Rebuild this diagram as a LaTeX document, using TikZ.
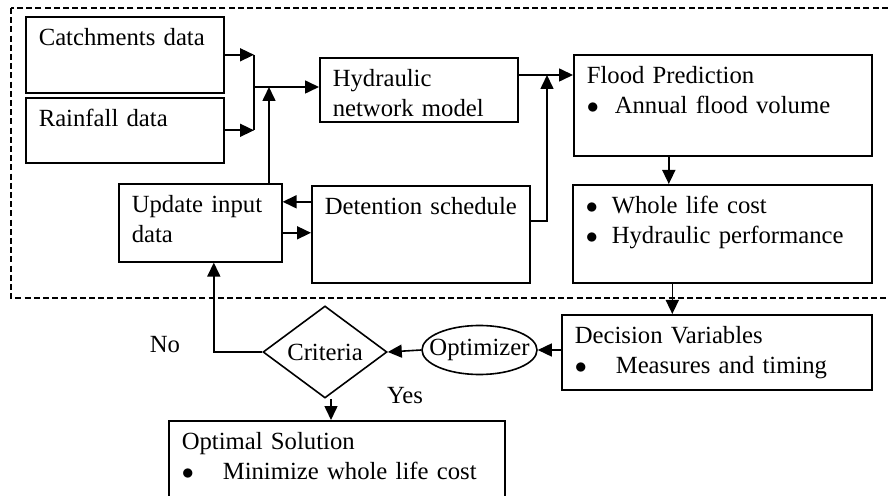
\documentclass[tikz,border=0pt]{standalone}
\usepackage{fontspec}
\setmainfont{Liberation Serif}
\usetikzlibrary{arrows.meta,shapes.geometric}
\newcommand{\bulletline}[2]{\makebox[#1][l]{$\bullet$}#2}

\begin{document}
\begin{tikzpicture}[x=0.5pt,y=-0.5pt,line width=0.8pt,
        font=\fontsize{12.35pt}{15pt}\selectfont,
        box/.style={draw,anchor=north west,align=left,inner xsep=6.5pt,inner ysep=0pt,text height=14.5pt},
        arr/.style={-{Triangle[length=7pt,width=6.5pt]}}]
        \useasboundingbox (0,0) rectangle (888,496);
        \draw[line width=0.55pt,dash pattern=on 3pt off 1.6pt] (11,8) rectangle (900,298);

        \node[box,text width=86pt,text depth=23.5pt] (catch) at (25,16) {Catchments data};
        \node[box,text width=86pt,text depth=18pt] (rain) at (25,97) {Rainfall data};
        \node[box,text width=86pt,text depth=17.5pt] (hyd) at (319,57) {Hydraulic\\network model};
        \node[box,text width=136pt,text depth=36pt] (flood) at (573,54)
                {Flood Prediction\\\bulletline{14pt}{Annual flood volume}};
        \node[box,text width=136.5pt,text depth=34.5pt] (perf) at (572,184)
                {\bulletline{13pt}{Whole life cost}\\\bulletline{13pt}{Hydraulic performance}};
        \node[box,text width=68.5pt,text depth=24.5pt] (upd) at (118,183) {Update input\\data};
        \node[box,text width=96pt,text depth=34pt] (det) at (311,185) {\mbox{Detention schedule}};
        \node[box,text width=142pt,text depth=23pt] (dec) at (561,314)
                {Decision Variables\\\bulletline{20.5pt}{Measures and timing}};
        \node[box,text width=155pt,text depth=30.5pt] (sol) at (168,420)
                {Optimal Solution\\\bulletline{20.5pt}{Minimize whole life cost}};
        \node[draw,diamond,inner sep=0pt,minimum width=62pt,minimum height=33pt] (crit) at (325,352) {Criteria};
        \node[draw,ellipse,inner xsep=-5pt,inner ysep=0pt,minimum width=57.5pt,minimum height=24.5pt] (opt) at (479.5,350) {Optimizer};
        \node[anchor=base] (no) at (165,352) {No};
        \node[anchor=base] (yes) at (405,403) {Yes};

        \coordinate (jn) at (254,87);
        \coordinate (jup) at (269,87);
        \coordinate (jf) at (547,75);

        \draw[arr] (catch.east) -- (catch.east -| jn);
        \draw[arr] (rain.east) -- (rain.east -| jn);
        \draw (catch.east -| jn) -- (rain.east -| jn);
        \draw[arr] (jn) -- (jn -| hyd.west);
        \draw[arr] (upd.north -| jup) -- (jup);
        \draw[arr] (hyd.east |- jf) -- (jf -| flood.west);
        \draw[arr] ([yshift=6.75pt]det.east) -| (jf);
        \draw[arr] ([yshift=16.25pt]det.west) -- ([yshift=16.25pt]det.west -| upd.east);
        \draw[arr] ([yshift=-5pt]upd.east) -- ([yshift=-5pt]upd.east -| det.west);
        \draw[arr] ([xshift=-27pt]flood.south) -- ([xshift=-27pt]flood.south |- perf.north);
        \draw[arr] ([xshift=-25pt]perf.south) -- ([xshift=-25pt]perf.south |- dec.north);
        \draw[arr] (dec.west |- opt) -- (opt.east);
        \draw[arr] (opt.west) -- (crit.east);
        \draw[arr] (crit.west) -| ([xshift=6.75pt]upd.south);
        \draw[arr] ([xshift=3pt]crit.south) -- ([xshift=3pt]crit.south |- sol.north);
\end{tikzpicture}
\end{document}
